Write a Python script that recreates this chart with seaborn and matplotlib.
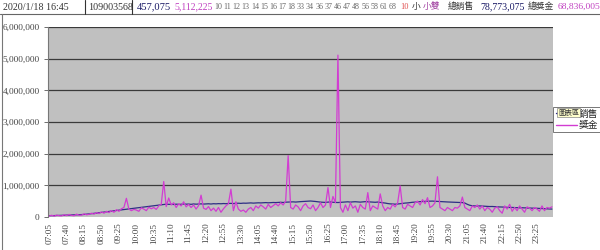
import matplotlib
matplotlib.use("Agg")
import matplotlib.pyplot as plt
import seaborn as sns
import pandas as pd
import numpy as np
from matplotlib.lines import Line2D

# ---- data (values in thousands) ----
start_time = "07:05"
end_time = "23:55"
times = pd.date_range("2020-01-18 " + start_time, "2020-01-18 " + end_time, freq="5min").strftime("%H:%M").tolist()

sales_k = [
    40, 42, 45, 48, 50, 52, 55,
    58, 60, 62, 65, 68, 70, 75,
    80, 88, 95, 105, 115, 125, 135,
    145, 155, 165, 175, 185, 195, 205,
    215, 225, 235, 245, 255, 265, 275,
    285, 295, 305, 315, 325, 335, 345,
    355, 365, 375, 385, 395, 405, 400,
    400, 395, 405, 398, 402, 410, 405,
    408, 400, 412, 405, 410, 415, 408,
    412, 418, 410, 420, 415, 422, 418,
    425, 420, 428, 430, 425, 432, 435,
    430, 438, 435, 440, 445, 438, 442,
    448, 445, 450, 455, 448, 452, 458,
    455, 460, 465, 458, 468, 470, 475,
    478, 472, 480, 485, 490, 495, 500,
    505, 498, 490, 480, 470, 465, 460,
    470, 475, 465, 460, 457, 462, 470,
    475, 480, 470, 478, 482, 475, 470,
    478, 485, 480, 475, 470, 465, 472,
    460, 450, 440, 425, 415, 410, 405,
    410, 420, 430, 440, 445, 455, 465,
    470, 480, 485, 490, 495, 498, 500,
    502, 498, 495, 490, 485, 480, 475,
    470, 468, 465, 462, 460, 455, 440,
    400, 370, 355, 350, 345, 350, 345,
    340, 335, 330, 332, 325, 320, 318,
    315, 310, 305, 300, 302, 298, 295,
    290, 292, 288, 285, 282, 280, 278,
    275, 270, 268, 262, 258, 255, 250,
]

prize_k = [
    30, 55, 25, 60, 40, 35, 70,
    45, 80, 50, 40, 90, 55, 60,
    100, 70, 85, 120, 90, 140, 110,
    160, 120, 180, 140, 200, 150, 230,
    180, 260, 300, 590, 250, 200, 240,
    220, 180, 290, 250, 200, 310, 260,
    300, 240, 350, 400, 1120, 330, 600,
    380, 450, 300, 420, 350, 480, 320,
    400, 300, 380, 250, 360, 690, 280,
    240, 330, 200, 280, 180, 300, 150,
    260, 350, 420, 880, 200, 480, 250,
    180, 220, 150, 250, 300, 200, 350,
    280, 380, 320, 250, 400, 300, 360,
    420, 350, 450, 380, 500, 1940, 300,
    250, 380, 320, 200, 350, 420, 300,
    260, 380, 200, 300, 450, 300, 380,
    930, 300, 650, 450, 5112, 300, 150,
    380, 200, 450, 280, 350, 150, 400,
    300, 250, 770, 200, 350, 300, 250,
    730, 350, 200, 300, 250, 400, 320,
    450, 980, 300, 250, 400, 350, 300,
    450, 500, 380, 550, 420, 610, 300,
    350, 450, 1270, 300, 250, 200, 300,
    250, 200, 300, 280, 350, 630, 300,
    250, 200, 350, 300, 380, 250, 350,
    200, 300, 250, 150, 280, 320, 200,
    120, 350, 250, 400, 180, 300, 200,
    350, 250, 150, 320, 280, 200, 300,
    250, 180, 350, 200, 300, 280, 320,
]

series_names = ["銷售", "獎金"]
series_colors = ["#2e2e85", "#d23cd2"]
y_ticks = [0, 1000000, 2000000, 3000000, 4000000, 5000000, 6000000]

header_fields = [
    ("2020/1/18 16:45", "#333333", 0.005, 7.2),
    ("109003568", "#333333", 0.147, 7.2),
    ("457,075", "#1a1a66", 0.228, 7.6),
    ("5,112,225", "#c040c0", 0.291, 7.0),
]
drawn_numbers = ["10", "11", "12", "13", "14", "15", "16", "17", "18", "33",
                 "34", "36", "37", "46", "47", "48", "56", "58", "61", "68"]
header_tail = [
    ("10", "#e05050", 0.667, 6.0), ("小", "#333333", 0.686, 6.3), ("小雙", "#a040a0", 0.705, 6.3),
    ("總銷售", "#333333", 0.746, 6.3), ("78,773,075", "#1a1a66", 0.8, 7.2),
    ("總獎金", "#333333", 0.88, 6.3), ("68,836,005", "#c040c0", 0.929, 6.8),
]

# ---- build frame ----
n = len(times)
df = pd.DataFrame({
    "idx": list(range(n)) * 2,
    "value": [v * 1000 for v in sales_k] + [v * 1000 for v in prize_k],
    "series": [series_names[0]] * n + [series_names[1]] * n,
})

sns.set_theme(style="white")
plt.rcParams["font.family"] = ["Liberation Serif", "Noto Sans CJK TC", "DejaVu Sans"]

fig = plt.figure(figsize=(6, 2.5), dpi=100)
fig.patch.set_facecolor("white")
ax = fig.add_axes([0.08, 0.132, 0.842, 0.76])
ax.set_facecolor("#c0c0c0")

sns.lineplot(data=df, x="idx", y="value", hue="series", palette=dict(zip(series_names, series_colors)),
             ax=ax, linewidth=0.9, legend=False, sort=False)

ax.set_xlim(-0.5, n - 0.5)
ax.set_ylim(0, 6000000)
ax.set_yticks(y_ticks)
ax.set_yticklabels([f"{v:,}" for v in y_ticks], fontsize=6.7, color="#444444")
for v in y_ticks[1:]:
    ax.axhline(v, color="#3a3a3a", lw=0.9, zorder=0.5)

ax.set_xticks(range(n), minor=True)
major = list(range(0, n, 7))
ax.set_xticks(major)
ax.set_xticklabels([times[i] for i in major], rotation=90, fontsize=6.6, color="#444444")
ax.tick_params(axis="x", which="both", direction="out", length=2, width=0.5, color="#555555", pad=2)
ax.tick_params(axis="y", which="both", length=3, width=0.6, color="#555555", pad=3, left=True)
ax.set_xlabel("")
ax.set_ylabel("")
for s in ["top", "right", "bottom"]:
    ax.spines[s].set_visible(False)
ax.spines["left"].set_color("#777777")
ax.spines["left"].set_linewidth(0.8)

# legend
handles = [Line2D([0], [0], color=c, lw=1.0) for c in series_colors]
leg = fig.legend(handles, series_names, loc="upper left", bbox_to_anchor=(0.922, 0.572),
                 fontsize=7, frameon=True, fancybox=False, edgecolor="#555555",
                 handlelength=2.2, handletextpad=0.2, borderpad=0.25, labelspacing=0.25,
                 borderaxespad=0)
leg.get_frame().set_linewidth(0.7)
leg.set_zorder(5)
tip = fig.text(0.93, 0.551, "圖表區", fontsize=5.0, color="#333333", va="center", ha="left",
               bbox=dict(boxstyle="square,pad=0.15", fc="#ffffcc", ec="#888888", lw=0.5))
tip.set_zorder(20)

# header strip
fig.add_artist(Line2D([0, 1], [0.944, 0.944], color="#666666", lw=0.8))
fig.add_artist(Line2D([0.004, 0.004], [0.0, 0.944], color="#777777", lw=0.8))
for txt, col, x, size in header_fields:
    fig.text(x, 0.972, txt, fontsize=size, color=col, va="center", ha="left")
for x in [0.142, 0.22]:
    fig.add_artist(Line2D([x, x], [0.944, 1.0], color="#333333", lw=0.8))
x0 = 0.357
step = 0.0153
for i, num in enumerate(drawn_numbers):
    fig.text(x0 + i * step, 0.972, num, fontsize=5.8, color="#666666", va="center", ha="left")
for txt, col, x, size in header_tail:
    fig.text(x, 0.972, txt, fontsize=size, color=col, va="center", ha="left")

fig.savefig("out.png", dpi=100, facecolor="white")
